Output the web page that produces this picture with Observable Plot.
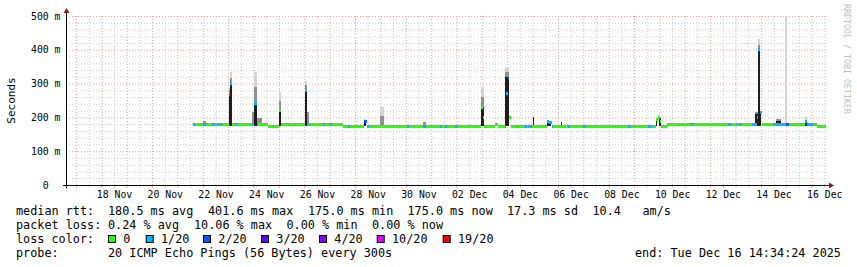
<!DOCTYPE html>
<html><head><meta charset="utf-8">
<script src="https://cdn.jsdelivr.net/npm/d3@7"></script>
<script src="https://cdn.jsdelivr.net/npm/@observablehq/plot@0.6"></script>
<style>
html,body{margin:0;padding:0;background:#fff;}
#chart{width:857px;height:267px;overflow:hidden;}
</style></head><body><div id="chart"></div>
<script>
// ---- data ----
const startTime = "11-16 14:34:24";
const endTime = "12-16 14:34:24";

const lossColors = ["#26ff00","#00b8ff","#0059ff","#5e00ff","#7e00ff","#dd00ff","#ff0000"];
const lossLabels = ["0","1/20","2/20","3/20","4/20","10/20","19/20"];

const yTicks = [0,100,200,300,400,500];
const yTickLabels = ["0\u00a0\u00a0","100 m","200 m","300 m","400 m","500 m"];
const xLabelDays = ["11-18","11-20","11-22","11-24","11-26","11-28","11-30","12-02","12-04","12-06","12-08","12-10","12-12","12-14","12-16"];
const xLabelTexts = ["18 Nov","20 Nov","22 Nov","24 Nov","26 Nov","28 Nov","30 Nov","02 Dec","04 Dec","06 Dec","08 Dec","10 Dec","12 Dec","14 Dec","16 Dec"];

// median rtt (ms) change points and loss index (0 .. 6)
const medianTimes = ["11-21 14:25","11-21 16:35","11-22 00:30","11-22 02:45","11-22 09:00","11-22 11:15","11-22 13:40","11-22 15:35","11-22 16:15","11-22 17:50",
"11-23 00:30","11-23 02:00","11-23 03:40","11-23 06:25","11-23 08:05","11-23 22:15","11-23 23:45","11-24 00:55","11-24 03:00","11-24 04:30",
"11-24 13:55","11-25 00:05","11-25 02:00","11-26 00:40","11-26 02:35","11-26 04:10","11-26 17:40","11-26 19:35","11-26 23:40","11-27 01:55",
"11-27 12:20","11-27 17:40","11-27 19:15","11-28 08:30","11-28 11:00","11-28 13:15","11-29 00:15","11-29 01:50","11-30 01:25","11-30 03:20",
"11-30 16:35","11-30 18:50","12-01 08:25","12-01 10:15","12-01 13:05","12-01 15:15","12-01 22:35","12-02 01:40","12-02 23:20","12-03 00:50",
"12-03 02:15","12-03 12:25","12-03 15:15","12-03 21:50","12-03 23:05","12-04 00:25","12-04 01:55","12-04 04:00","12-04 08:55","12-04 10:10",
"12-04 15:50","12-04 18:25","12-04 19:40","12-04 23:10","12-05 13:20","12-05 16:00","12-05 18:05","12-05 19:15","12-06 09:45","12-06 11:20",
"12-06 23:55","12-07 02:30","12-08 18:30","12-08 20:45","12-09 13:25","12-09 15:40","12-09 16:55","12-09 18:10","12-09 20:25","12-09 22:20",
"12-10 00:15","12-10 01:25","12-10 07:25","12-11 05:50","12-11 08:00","12-12 17:05","12-12 19:25","12-13 00:05","12-13 01:40","12-13 03:30",
"12-13 05:45","12-13 15:15","12-13 20:00","12-13 20:55","12-13 23:05","12-14 00:45","12-14 11:40","12-14 23:40","12-15 02:50","12-15 17:40",
"12-15 19:50","12-16 02:10","12-16 04:45","12-16 13:15"];
const medianMs = [181,181,181,181,181,181,181,181,181,181,
270,303,181,181,181,181,181,242,181,181,
176,222,181,281,181,181,181,181,181,181,
176,176,176,188,176,176,184,176,176,176,
176,176,176,176,176,176,176,176,230,200,
176,179,176,176,272,318,200,176,176,176,
176,176,176,176,188,185,176,176,176,176,
176,176,176,176,176,176,176,176,195,202,
190,175,181,181,181,181,181,181,181,181,
181,181,200,401.6,215,181,181,181,181,190,
181,181,175,175];
const medianLoss = [1,0,1,0,1,0,1,0,1,0,
1,1,0,1,0,1,0,1,1,0,
0,0,0,1,1,0,1,0,1,0,
0,1,0,2,1,0,1,0,1,0,
1,0,1,0,1,0,1,0,0,0,
0,0,0,1,1,2,0,0,1,0,
1,0,1,0,1,1,1,0,1,0,
1,0,1,0,1,0,1,0,0,0,
0,0,0,1,0,1,0,1,0,1,
0,1,1,1,1,0,1,2,0,1,
1,0,0,0];

// smoke (spread of the 20 pings): dense part, middle part, outermost ping (ms)
const smokeFrom = ["11-22 00:30","11-23 00:30","11-23 02:00","11-23 23:00","11-24 00:25","11-24 02:50","11-25 00:05","11-26 00:40","11-26 02:35","11-28 08:30",
"11-29 00:05","11-30 16:35","12-02 23:10","12-03 22:20","12-05 00:20","12-05 13:20","12-06 02:35","12-09 20:25","12-10 00:00","12-13 18:20",
"12-13 20:55","12-13 23:05","12-14 14:15","12-14 22:45","12-15 17:40"];
const smokeTo = ["11-22 02:45","11-23 02:00","11-23 03:40","11-24 00:25","11-24 02:50","11-24 08:00","11-25 02:00","11-26 02:35","11-26 04:55","11-28 10:25",
"11-29 03:25","11-30 18:50","12-03 02:15","12-04 02:10","12-05 01:20","12-05 17:25","12-06 03:50","12-09 21:40","12-10 01:25","12-13 20:55",
"12-13 23:05","12-14 00:30","12-14 18:40","12-15 00:55","12-15 19:50"];
const smokeDense = [null,272,306,null,242,null,222,281,null,190,
null,null,230,320,200,189,187,199,199,210,
401.6,220,190,null,192];
const smokeMid = [189,280,318,215,290,198,250,295,216,null,
205,187,260,335,null,null,null,null,null,217,
415,null,196,null,null];
const smokeMax = [null,290,333,null,335,null,276,309,null,196,
232,null,290,350,null,null,null,null,null,null,
431,null,null,500,200];
const smokeFloor = 175;

const statsRtt = ["180.5 ms avg","401.6 ms max","175.0 ms min","175.0 ms now","17.3 ms sd","10.4","am/s"];
const statsLoss = ["0.24 % avg","10.06 % max","0.00 % min","0.00 % now"];
const probeText = "20 ICMP Echo Pings (56 Bytes) every 300s";
const endText = "end: Tue Dec 16 14:34:24 2025";

// ---- build ----
const T = s => new Date("2025-" + s.replace(" ", "T") + (s.length > 11 ? "Z" : ":00Z"));
const segments = medianTimes.slice(0, -1).map((t, i) => ({from: T(t), to: T(medianTimes[i + 1]), ms: medianMs[i], loss: medianLoss[i]}));
const smoke = smokeFrom.map((f, i) => ({from: T(f), to: T(smokeTo[i]), dense: smokeDense[i], mid: smokeMid[i], max: smokeMax[i]}));
const t0 = T(startTime), t1 = T(endTime);
const xMajor = d3.utcDay.range(t0, t1);
const xMinor = d3.utcHour.every(12).range(t0, t1).filter(d => d.getUTCHours() === 12);
const yMajor = yTicks.filter(v => v > 0);
const yMinor = d3.range(20, 500, 20).filter(v => v % 100 !== 0);
const labelDates = xLabelDays.map(d => T(d + " 12:00"));
const xLabelMap = new Map(labelDates.map((d, i) => [+d, xLabelTexts[i]]));
const yLabelMap = new Map(yTicks.map((v, i) => [v, yTickLabels[i]]));

const FONT = "DejaVu Sans Mono";
const GRID = "#cdcdcd", MGRID = "#e6a0a0";

const plot = Plot.plot({
  width: 857, height: 267,
  marginTop: 16, marginLeft: 66, marginRight: 30, marginBottom: 82,
  x: {type: "utc", domain: [t0, t1], axis: null, label: null},
  y: {domain: [0, 500], axis: null, label: null},
  color: {type: "identity"},
  style: {background: "#fff", fontFamily: FONT, color: "#000", overflow: "visible"},
  marks: [
    Plot.gridY(yMinor, {stroke: GRID, strokeOpacity: 1, strokeDasharray: "1,2"}),
    Plot.gridX(xMinor, {stroke: GRID, strokeOpacity: 1, strokeDasharray: "1,2"}),
    Plot.gridY(yMajor, {stroke: MGRID, strokeOpacity: 1, strokeDasharray: "1,2"}),
    Plot.gridX(xMajor, {stroke: MGRID, strokeOpacity: 1, strokeDasharray: "1,2"}),
    Plot.axisX(xMinor, {tickSize: 3, tickFormat: () => "", stroke: GRID, label: null}),
    Plot.axisX(xMajor, {tickSize: 3, tickFormat: () => "", stroke: MGRID, label: null}),
    Plot.rectY(smoke.filter(d => d.max != null), {x1: "from", x2: "to", y1: smokeFloor, y2: "max", fill: "#d4d4d4", shapeRendering: "crispEdges"}),
    Plot.rectY(smoke.filter(d => d.mid != null), {x1: "from", x2: "to", y1: smokeFloor, y2: "mid", fill: "#8f8f8f", shapeRendering: "crispEdges"}),
    Plot.rectY(smoke.filter(d => d.dense != null), {x1: "from", x2: "to", y1: smokeFloor, y2: "dense", fill: "#1e1e1e", shapeRendering: "crispEdges"}),
    Plot.ruleY(segments, {x1: "from", x2: "to", y: "ms", stroke: d => lossColors[d.loss], strokeWidth: 3, shapeRendering: "crispEdges"}),
    Plot.axisX(labelDates, {tickSize: 0, tickPadding: 6, tickFormat: d => xLabelMap.get(+d), fontSize: 9.8, fontFamily: FONT, fill: "#000", label: null}),
    Plot.axisY(yTicks, {tickSize: 0, tickPadding: 6, tickFormat: d => yLabelMap.get(d), fontSize: 9.8, fontFamily: FONT, fill: "#000", label: null})
  ]
});
document.getElementById("chart").appendChild(plot);

// axes lines, arrows, titles and legend
const svg = d3.select(plot);
const xs = plot.scale("x"), ys = plot.scale("y");
const [xl, xr] = xs.range;
const y0 = ys.apply(0) + 0.5, yTop = ys.apply(500);
const AX = "#8b1a1a";
svg.append("line").attr("x1", xl - 3).attr("x2", xr + 3).attr("y1", y0).attr("y2", y0).attr("stroke", "#000");
svg.append("line").attr("x1", xl + 0.5).attr("x2", xl + 0.5).attr("y1", y0 + 3).attr("y2", yTop - 4).attr("stroke", "#000");
svg.append("path").attr("d", `M${xr + 2},${y0 - 3}L${xr + 7},${y0}L${xr + 2},${y0 + 3}Z`).attr("fill", AX);
svg.append("path").attr("d", `M${xl + 0.5 - 3},${yTop - 3}L${xl + 0.5},${yTop - 8}L${xl + 0.5 + 3},${yTop - 3}Z`).attr("fill", AX);

svg.append("text").attr("transform", `translate(15,${(ys.apply(0) + yTop) / 2}) rotate(-90)`)
  .attr("text-anchor", "middle").attr("font-family", FONT).attr("font-size", 11).attr("fill", "#000").text("Seconds");
svg.append("text").attr("transform", "translate(844,4) rotate(90)").attr("text-anchor", "start")
  .attr("font-family", FONT).attr("font-size", 8.3).attr("fill", "#c0c0c0").text("RRDTOOL / TOBI OETIKER");

const LF = 11.8;
const legendText = (x, y, s) => svg.append("text").attr("x", x).attr("y", y).attr("text-anchor", "start")
  .attr("font-family", FONT).attr("font-size", LF).attr("fill", "#000").text(s);
legendText(16, 215, "median rtt:");
[108, 208, 308, 407.5, 507, 592.5, 642.5].forEach((x, i) => legendText(x, 215, statsRtt[i]));
legendText(16, 229, "packet loss:");
[108, 194, 286.5, 372].forEach((x, i) => legendText(x, 229, statsLoss[i]));
legendText(16, 243, "loss color:");
[108, 145.7, 203, 261, 319, 376.7, 442.7].forEach((x, i) => {
  svg.append("rect").attr("x", x + 0.5).attr("y", 235.5).attr("width", 7).attr("height", 7)
    .attr("fill", lossColors[i]).attr("stroke", "#000").attr("stroke-width", 1);
  legendText(x + 15.3, 243, lossLabels[i]);
});
legendText(16, 257, "probe:");
legendText(108, 257, probeText);
legendText(635, 257, endText);
</script></body></html>
